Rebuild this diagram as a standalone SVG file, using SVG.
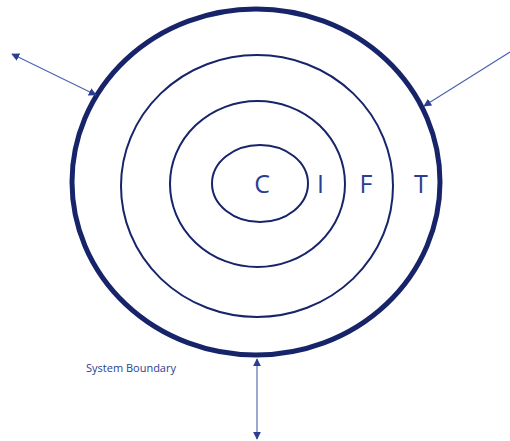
<svg xmlns="http://www.w3.org/2000/svg" width="510" height="441" viewBox="0 0 510 441">
<style>
.ring{fill:none;stroke:#17246a}
.lbl{font-family:"Open Sans","Liberation Sans",sans-serif;fill:#2a3f92}
.big{font-size:25px;font-weight:500}
.conn{stroke:#4a62b0;stroke-width:1.1;fill:none}
</style>
<defs>
<marker id="ah" viewBox="0 0 10 10" refX="9" refY="5" markerWidth="8" markerHeight="8" markerUnits="userSpaceOnUse" orient="auto-start-reverse">
<path d="M0,0 L10,5 L0,10 z" fill="#2a3f92"/>
</marker>
</defs>
<rect width="510" height="441" fill="#fff"/>
<g id="outer"><ellipse class="ring" cx="256" cy="182" rx="184" ry="173" stroke-width="5"/><text class="lbl big" x="421" y="193" text-anchor="middle">T</text></g>
<g id="second"><ellipse class="ring" cx="257" cy="186" rx="136" ry="131" stroke-width="2"/><text class="lbl big" x="366" y="193" text-anchor="middle">F</text></g>
<g id="third"><ellipse class="ring" cx="257.5" cy="184" rx="87.5" ry="83" stroke-width="2"/><text class="lbl big" x="320.5" y="193" text-anchor="middle">I</text></g>
<g id="inner"><ellipse class="ring" cx="260" cy="183.5" rx="48" ry="38.5" stroke-width="2"/><text class="lbl big" x="262" y="193" text-anchor="middle">C</text></g>
<g id="label"><text class="lbl" x="86" y="372" font-size="11">System Boundary</text></g>
<g id="connectors">
<line class="conn" x1="96" y1="95" x2="12" y2="54" marker-start="url(#ah)" marker-end="url(#ah)"/>
<line class="conn" x1="510" y1="52" x2="424" y2="106" marker-end="url(#ah)"/>
<line class="conn" x1="257" y1="359" x2="257" y2="439" marker-start="url(#ah)" marker-end="url(#ah)"/>
</g>
</svg>
